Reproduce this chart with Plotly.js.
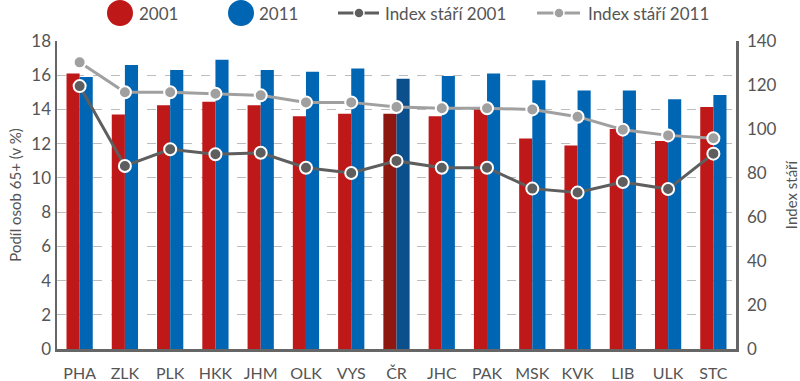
<!DOCTYPE html>
<html>
<head>
<meta charset="utf-8">
<script src="https://cdn.plot.ly/plotly-3.0.1.min.js"></script>
<style>html,body{margin:0;padding:0;background:#fff;}#chart{width:800px;height:381px;}</style>
</head>
<body>
<div id="chart"></div>
<script>
const regions = ["PHA","ZLK","PLK","HKK","JHM","OLK","VYS","ČR","JHC","PAK","MSK","KVK","LIB","ULK","STC"];
const share2001 = [16.1,13.7,14.25,14.45,14.25,13.6,13.75,13.75,13.6,14.05,12.3,11.9,12.85,12.15,14.15];
const share2011 = [15.9,16.6,16.3,16.9,16.3,16.2,16.4,15.8,15.95,16.1,15.7,15.1,15.1,14.6,14.85];
const index2001 = [119.5,83.2,90.8,88.5,89.2,82.4,80.0,85.5,82.4,82.4,72.9,71.1,75.9,72.7,88.8];
const index2011 = [130.3,116.7,116.7,116.0,115.3,112.1,112.1,110.0,109.4,109.4,108.9,105.6,99.7,97.1,95.8];
const legendNames = ["2001","2011","Index stáří 2001","Index stáří 2011"];

const red = "#be1818", blue = "#0066b3", redCR = "#8e1710", blueCR = "#0b4f8c";
const grayDark = "#5e5e5e", grayLight = "#a0a0a0";
const red2001 = regions.map(r => r === "ČR" ? redCR : red);
const blue2011 = regions.map(r => r === "ČR" ? blueCR : blue);
const fnt = "Lato, 'DejaVu Sans', sans-serif";
const txt = "#555555";

const W = 800, H = 381, M = {l:57, r:64, t:41, b:32};
const pw = W - M.l - M.r, ph = H - M.t - M.b;
const px = x => (x - M.l) / pw;
const py = y => (H - M.b - y) / ph;

// custom legend (layout decoration, positioned in pixels)
const legY = 13;
const shapes = [], annotations = [];
function circle(cx, r, color, lineColor, lineW) {
  shapes.push({type:"circle", xref:"paper", yref:"paper", xsizemode:"pixel", ysizemode:"pixel",
    xanchor:px(cx), yanchor:py(legY), x0:-r, x1:r, y0:-r, y1:r,
    fillcolor:color, line:{color:lineColor || color, width:lineW || 0}});
}
function seg(x0, x1, color) {
  shapes.push({type:"line", xref:"paper", yref:"paper", x0:px(x0), x1:px(x1), y0:py(legY), y1:py(legY),
    line:{color:color, width:3}});
}
function label(x, text) {
  annotations.push({xref:"paper", yref:"paper", x:px(x), y:py(legY), xanchor:"left", yanchor:"middle",
    text:text, showarrow:false, font:{family:fnt, size:17, color:txt}});
}
circle(120, 13, red); label(137, legendNames[0]);
circle(241, 13, blue); label(257, legendNames[1]);
seg(338, 379, grayDark); circle(359, 5, grayDark, "#ffffff", 1.5); label(383, legendNames[2]);
seg(537, 580, grayLight); circle(559, 5, grayLight, "#ffffff", 1.5); label(586, legendNames[3]);

const traces = [
  {type:"bar", x:regions, y:share2001, name:legendNames[0], marker:{color:red2001}, yaxis:"y"},
  {type:"bar", x:regions, y:share2011, name:legendNames[1], marker:{color:blue2011}, yaxis:"y"},
  {type:"scatter", mode:"lines+markers", x:regions, y:index2001, name:legendNames[2], yaxis:"y2",
   line:{color:grayDark, width:3}, marker:{color:grayDark, size:12, line:{color:"#ffffff", width:2}}},
  {type:"scatter", mode:"lines+markers", x:regions, y:index2011, name:legendNames[3], yaxis:"y2",
   line:{color:grayLight, width:3}, marker:{color:grayLight, size:12, line:{color:"#ffffff", width:2}}}
];

const layout = {
  width:W, height:H,
  margin:M,
  paper_bgcolor:"#fff", plot_bgcolor:"#fff",
  font:{family:fnt, color:txt, size:15},
  barmode:"group", bargap:0.42, bargroupgap:0,
  showlegend:false,
  shapes:shapes, annotations:annotations,
  xaxis:{type:"category", showline:true, linecolor:"#666", linewidth:2.5, ticks:"", showgrid:false,
    tickfont:{family:fnt, size:16, color:txt}, range:[-0.5,14.5], fixedrange:true, ticklabelstandoff:8},
  yaxis:{range:[0,18], dtick:2, showline:true, linecolor:"#666", linewidth:2.5, ticks:"",
    showgrid:true, gridcolor:"#bdbdbd", griddash:"dash", gridwidth:1, zeroline:false,
    tickfont:{family:fnt, size:17, color:txt},
    title:{text:"Podíl osob 65+ (v %)", font:{family:fnt, size:15, color:txt}, standoff:6}},
  yaxis2:{range:[0,140], dtick:20, overlaying:"y", side:"right", showline:true, linecolor:"#666", linewidth:2.5,
    ticks:"", showgrid:false, zeroline:false, tickfont:{family:fnt, size:17, color:txt}, ticklabelstandoff:5,
    title:{text:"Index stáří", font:{family:fnt, size:15, color:txt}, standoff:12}}
};

Plotly.newPlot("chart", traces, layout, {displayModeBar:false, staticPlot:true});
</script>
</body>
</html>
